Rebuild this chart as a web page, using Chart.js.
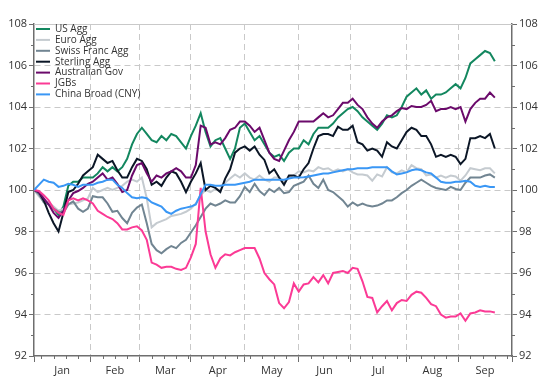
<!DOCTYPE html>
<html>
<head>
<meta charset="utf-8">
<script src="https://cdn.jsdelivr.net/npm/chart.js@4.4.1/dist/chart.umd.min.js"></script>
<style>
  html, body { margin: 0; padding: 0; background: #fff; }
  #wrap { width: 545px; height: 384px; }
</style>
</head>
<body>
<div id="wrap"><canvas id="chart" width="545" height="384"></canvas></div>
<script>
// business-day index (0 = 1 Jan), one reading every 2 business days
const STEP = 2;
const monthNames = ['Jan', 'Feb', 'Mar', 'Apr', 'May', 'Jun', 'Jul', 'Aug', 'Sep'];
const monthStarts = [0, 23, 43, 64, 86, 108, 129, 152, 173, 195];
const yTicks = [92, 94, 96, 98, 100, 102, 104, 106, 108];

const seriesNames = ['US Agg', 'Euro Agg', 'Swiss Franc Agg', 'Sterling Agg', 'Australian Gov', 'JGBs', 'China Broad (CNY)'];
const seriesColors = ['#13875f', '#c5cbd0', '#718592', '#0b1626', '#6b0a6b', '#fb3a95', '#3a97f5'];

const usAgg = [
  100.0, 99.8, 99.5, 99.3, 99.1, 98.8, 99.2, 100.2, 100.4, 100.4,
  100.6, 100.6, 100.6, 100.8, 101.1, 100.9, 101.1, 100.9, 101.1, 101.5,
  102.2, 102.7, 103.0, 102.7, 102.4, 102.3, 102.6, 102.4, 102.7, 102.6,
  102.3, 102.0, 102.6, 103.1, 103.7, 102.8, 102.1, 102.4, 102.5, 102.0,
  101.5, 102.0, 103.0, 103.2, 102.8, 102.4, 102.6, 102.2, 101.8, 101.6,
  101.7, 101.4, 101.8, 102.0, 102.0, 102.4, 102.2, 102.7, 103.0, 103.0,
  103.0, 103.2, 103.5, 103.7, 103.9, 104.0, 103.8, 103.5, 103.3, 103.1,
  102.9, 103.2, 103.6, 103.5, 103.6, 104.0, 104.5, 104.7, 104.9, 104.6,
  104.8, 104.4, 104.6, 104.6, 104.7, 104.9, 105.1, 104.9, 105.4, 106.1,
  106.3, 106.5, 106.7, 106.6, 106.2
];
const euroAgg = [
  100.0, 99.7, 99.45, 99.4, 99.2, 99.0, 99.1, 99.3, 99.35, 99.4,
  99.5, 99.6, 100.1, 99.9, 100.0, 100.1, 100.0, 100.1, 100.2, 100.4,
  100.5, 100.4, 100.6, 99.6, 98.2, 98.4, 98.5, 98.6, 98.75, 98.8,
  98.85, 98.95, 99.1, 99.35, 99.75, 100.0, 99.9, 100.05, 100.0, 100.35,
  100.55, 100.75, 100.6, 100.8, 100.6, 100.5, 100.7, 100.5, 100.4, 100.6,
  100.6, 100.4, 100.6, 100.7, 100.9, 100.85, 100.95, 100.9, 101.1, 101.0,
  101.05, 100.9, 101.0, 100.9, 101.0, 100.85, 100.75, 100.75, 100.7, 100.45,
  100.75, 100.65, 101.1, 100.85, 100.8, 100.95, 100.85, 101.2, 101.05, 101.0,
  100.7, 100.75, 100.6, 100.7, 100.6, 100.7, 100.65, 100.45, 100.7, 101.05,
  101.0, 100.95, 101.05, 101.05, 100.8
];
const swissAgg = [
  100.0, 99.8, 99.4, 99.3, 99.1, 98.95, 98.9, 99.3, 99.45, 99.1,
  98.95, 99.1, 99.7, 99.65, 99.65, 99.35, 98.95, 99.0, 98.65, 98.4,
  98.9, 99.15, 99.3, 98.4, 97.4, 97.1, 96.95, 97.15, 97.3, 97.2,
  97.45, 97.6, 97.95, 98.3, 98.7, 99.1, 99.35, 99.25, 99.35, 99.5,
  99.4, 99.4, 99.7, 100.15, 99.9, 100.3, 99.95, 99.75, 100.05, 99.9,
  100.1, 99.85, 99.9, 100.2, 100.3, 100.4, 100.7, 100.3, 100.1, 100.5,
  100.0, 99.9, 99.7, 99.5, 99.2, 99.4, 99.25, 99.35, 99.25, 99.2,
  99.25, 99.35, 99.5, 99.5, 99.65, 99.85, 100.0, 100.2, 100.35, 100.5,
  100.35, 100.2, 100.1, 100.05, 100.0, 100.15, 100.05, 100.0, 100.35, 100.6,
  100.6, 100.6, 100.7, 100.75, 100.6
];
const sterlingAgg = [
  100.0, 99.9, 99.5, 98.9, 98.4, 98.0, 98.9, 99.9, 100.0, 100.3,
  100.7, 100.9, 101.1, 101.7, 101.5, 101.3, 101.4, 100.95, 100.6, 100.6,
  101.1, 101.5, 101.4, 101.0, 100.25, 100.4, 100.2, 100.6, 100.9, 100.8,
  100.4, 99.9, 100.4, 100.8, 101.3, 100.0, 100.2, 100.1, 99.9, 100.55,
  101.0, 101.8, 102.0, 102.1, 101.9, 102.1, 101.7, 101.45, 100.8, 101.0,
  100.6, 100.25, 100.7, 100.7, 100.6, 101.0, 101.3, 102.0, 102.6, 102.7,
  102.7, 102.6, 103.05, 102.9, 102.9, 103.1, 102.3, 102.2, 101.9, 102.0,
  101.9, 101.6, 102.3, 102.1, 102.0, 102.4, 102.8, 103.0, 102.9, 102.6,
  102.6, 102.2, 101.6, 101.7, 101.6, 101.7, 101.6, 101.25, 101.5, 102.5,
  102.5, 102.6, 102.5, 102.7, 102.0
];
const ausGov = [
  100.0, 99.9, 99.6, 99.3, 98.9, 98.65, 99.0, 99.5, 99.85, 99.95,
  100.1, 100.3, 100.4, 100.6, 100.8, 100.5, 100.6, 100.3, 99.9, 100.0,
  100.7, 101.2, 101.3, 100.8, 100.4, 100.7, 100.6, 100.8, 100.9, 101.05,
  100.9, 100.6, 100.6, 101.2, 103.1, 103.0, 102.2, 102.3, 102.2, 102.5,
  102.9, 103.0, 103.3, 103.3, 103.1, 102.8, 103.0, 102.4, 101.8, 101.5,
  101.4, 101.9, 102.4, 102.8, 103.3, 103.3, 103.3, 103.3, 103.5, 103.7,
  103.5, 103.6, 103.9, 104.2, 104.2, 104.4, 104.1, 103.9, 103.5, 103.2,
  103.0, 103.3, 103.5, 103.6, 103.8, 103.95, 103.9, 104.05, 104.0, 104.0,
  104.1, 104.3, 103.8, 103.9, 103.9, 104.0, 103.9, 104.0, 103.3, 103.9,
  104.2, 104.4, 104.4, 104.7, 104.45
];
const jgbs = [
  100.0, 99.95, 99.75, 99.5, 99.1, 98.9, 98.8, 99.5, 99.6, 99.5,
  99.6, 99.5, 99.35, 99.0, 98.85, 98.7, 98.6, 98.4, 98.1, 98.1,
  98.2, 98.25, 98.05, 97.6, 96.5, 96.4, 96.25, 96.3, 96.3, 96.2,
  96.15, 96.25, 96.75, 97.4, 100.1, 98.0, 96.9, 96.25, 96.7, 96.9,
  96.85, 97.0, 97.1, 97.2, 97.2, 97.2, 96.7, 96.0, 95.7, 95.45,
  94.55, 94.3, 94.6, 95.5, 95.1, 95.45, 95.5, 95.8, 95.55, 95.9,
  95.5, 96.0, 96.05, 96.1, 96.0, 96.25, 96.2, 95.6, 94.85, 94.8,
  94.1, 94.4, 94.65, 94.2, 94.55, 94.7, 94.65, 94.95, 95.1, 95.05,
  94.8, 94.5, 94.4, 94.0, 93.85, 93.9, 93.9, 94.05, 93.7, 94.05,
  94.1, 94.2, 94.15, 94.15, 94.1
];
const chinaBroad = [
  100.0, 100.25, 100.5, 100.4, 100.35, 100.15, 100.2, 100.3, 100.25, 100.15,
  100.25, 100.25, 100.25, 100.35, 100.4, 100.5, 100.5, 100.25, 100.1, 99.85,
  99.65, 99.6, 99.65, 99.6, 99.4, 99.3, 99.2, 98.95, 98.85, 99.0,
  99.1, 99.15, 99.2, 99.3, 99.8, 100.25, 100.25, 100.2, 100.2, 100.25,
  100.25, 100.25, 100.3, 100.35, 100.4, 100.5, 100.5, 100.5, 100.5, 100.5,
  100.5, 100.5, 100.55, 100.6, 100.6, 100.62, 100.65, 100.7, 100.75, 100.8,
  100.8, 100.85, 100.9, 100.95, 101.0, 101.0, 101.05, 101.05, 101.05, 101.1,
  101.1, 101.1, 101.1, 100.9, 100.75, 100.8, 100.85, 100.95, 101.0, 100.95,
  100.85, 100.8, 100.6, 100.4, 100.35, 100.35, 100.4, 100.4, 100.45, 100.4,
  100.2, 100.15, 100.2, 100.15, 100.15
];

const allSeries = [usAgg, euroAgg, swissAgg, sterlingAgg, ausGov, jgbs, chinaBroad];

const monthCenters = monthNames.map((m, i) => (monthStarts[i] + monthStarts[i + 1]) / 2);
const xMax = monthStarts[monthStarts.length - 1];
const gridCol = '#c9c9c9';
const axisCol = '#6e6e6e';
const textCol = '#333333';
const FONT = "'Open Sans', sans-serif";

const datasets = allSeries.map((vals, k) => ({
  label: seriesNames[k],
  data: vals.map((v, i) => ({ x: i * STEP, y: v })),
  borderColor: seriesColors[k],
  backgroundColor: seriesColors[k],
  borderWidth: 2,
  pointRadius: 0,
  tension: 0,
  fill: false,
  order: allSeries.length - k
}));

// minor tick marks, solid top frame line and the in-plot legend
const extras = {
  id: 'extras',
  afterDraw(chart) {
    const { ctx, chartArea: a, scales } = chart;
    ctx.save();
    ctx.strokeStyle = gridCol;
    ctx.lineWidth = 1;
    ctx.beginPath();
    ctx.moveTo(a.left, a.top + 0.5);
    ctx.lineTo(a.right, a.top + 0.5);
    ctx.stroke();

    ctx.strokeStyle = axisCol;
    ctx.beginPath();
    for (let v = 93; v < 108; v += 2) {
      const py = Math.round(scales.y.getPixelForValue(v)) + 0.5;
      ctx.moveTo(a.left - 3, py); ctx.lineTo(a.left, py);
      ctx.moveTo(a.right, py); ctx.lineTo(a.right + 3, py);
    }
    for (let d = 3; d < xMax; d += 5) {
      if (monthStarts.includes(d)) continue;
      const px = Math.round(scales.x.getPixelForValue(d)) + 0.5;
      ctx.moveTo(px, a.bottom); ctx.lineTo(px, a.bottom + 3);
    }
    ctx.stroke();

    ctx.font = '10px ' + FONT;
    ctx.textBaseline = 'middle';
    ctx.fillStyle = textCol;
    chart.data.datasets.forEach((ds, k) => {
      const y = 29 + k * 10.9;
      ctx.strokeStyle = ds.borderColor;
      ctx.lineWidth = 2;
      ctx.beginPath();
      ctx.moveTo(36, y); ctx.lineTo(50, y);
      ctx.stroke();
      ctx.fillText(ds.label, 55, y);
    });
    ctx.restore();
  }
};

new Chart(document.getElementById('chart'), {
  type: 'line',
  data: { datasets },
  plugins: [extras],
  options: {
    responsive: false,
    animation: false,
    devicePixelRatio: 1,
    layout: { padding: { top: 24, left: 0, right: 0, bottom: 0 } },
    plugins: { legend: { display: false }, tooltip: { enabled: false } },
    scales: {
      x: {
        type: 'linear',
        min: 0,
        max: xMax,
        afterBuildTicks: s => {
          s.ticks = monthStarts.concat(monthCenters).sort((p, q) => p - q).map(v => ({ value: v }));
        },
        afterFit: s => { s.height = 28; },
        ticks: {
          autoSkip: false,
          maxRotation: 0,
          padding: 2,
          color: textCol,
          font: { family: FONT, size: 11 },
          callback: v => {
            const i = monthCenters.indexOf(v);
            return i >= 0 ? monthNames[i] : '';
          }
        },
        grid: {
          color: c => (c.tick && monthStarts.includes(c.tick.value) && c.tick.value > 0 && c.tick.value < xMax) ? gridCol : 'rgba(0,0,0,0)',
          tickColor: c => (c.tick && monthStarts.includes(c.tick.value)) ? axisCol : 'rgba(0,0,0,0)',
          tickLength: 6,
          lineWidth: 1
        },
        border: { color: axisCol, width: 1.5, dash: [6, 4] }
      },
      y: {
        position: 'left',
        min: 92,
        max: 108,
        afterBuildTicks: s => { s.ticks = yTicks.map(v => ({ value: v })); },
        afterFit: s => { s.width = 34; },
        ticks: { color: textCol, padding: 2, font: { family: FONT, size: 11 } },
        grid: {
          color: c => (c.tick && c.tick.value > 92 && c.tick.value < 108) ? gridCol : 'rgba(0,0,0,0)',
          tickColor: axisCol,
          tickLength: 5
        },
        border: { color: axisCol, width: 1.5, dash: [6, 4] }
      },
      y1: {
        position: 'right',
        min: 92,
        max: 108,
        afterBuildTicks: s => { s.ticks = yTicks.map(v => ({ value: v })); },
        afterFit: s => { s.width = 33; },
        ticks: { color: textCol, padding: 2, font: { family: FONT, size: 11 } },
        grid: { drawOnChartArea: false, tickColor: axisCol, tickLength: 5 },
        border: { color: axisCol, width: 1.5 }
      }
    }
  }
});
</script>
</body>
</html>
